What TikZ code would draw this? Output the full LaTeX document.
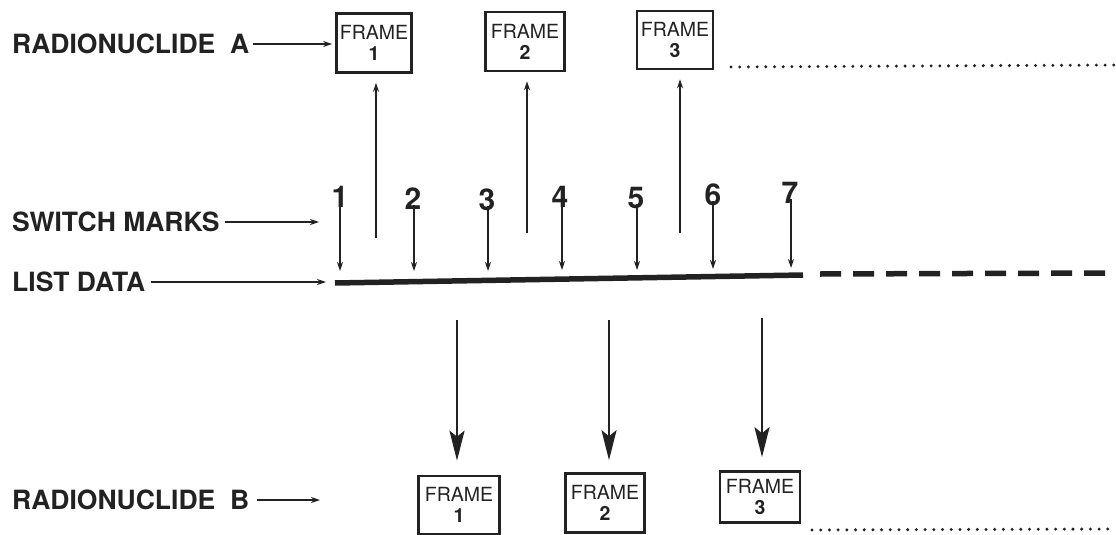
\documentclass[tikz,border=0pt]{standalone}
\usepackage{fontspec}
\setmainfont{TeX Gyre Heros}
\usetikzlibrary{arrows.meta}
\definecolor{ink}{HTML}{222222}
\begin{document}
\begin{tikzpicture}[x=1pt,y=-1pt,
  lab/.style={anchor=west,inner sep=0pt,font=\fontsize{26.5}{26.5}\selectfont\bfseries,text=ink},
  num/.style={inner sep=0pt,font=\fontsize{30}{30}\selectfont\bfseries,text=ink},
  framebox/.style={draw=ink,line width=2.6pt,inner sep=0pt,align=center,
    font=\fontsize{19.5}{21}\selectfont,text=ink},
  thin/.style={draw=ink,line width=1.2pt,-{Stealth[length=9pt,width=6pt]}},
  big/.style={draw=ink,line width=2.6pt,-{Stealth[length=30pt,width=15pt,inset=6pt]}},
  dots/.style={draw=ink,line width=3.3pt,line cap=round,dash pattern=on 0pt off 8.7pt}]
\useasboundingbox (0,0) rectangle (1116,535);
% labels
\node[lab] (la) at (12,44) {RADIONUCLIDE\ \ A};
\node[lab] (ls) at (12,222) {SWITCH MARKS};
\node[lab] (ll) at (12,282) {LIST DATA};
\node[lab] (lb) at (12,500) {RADIONUCLIDE\ \ B};
% top frames
\node[framebox,minimum width=75pt,minimum height=59pt] (fa1) at (374,43) {FRAME\\\textbf{1}};
\node[framebox,minimum width=79pt,minimum height=59pt] (fa2) at (525,41.5) {FRAME\\\textbf{2}};
\node[framebox,minimum width=76pt,minimum height=58pt] (fa3) at (675,40) {FRAME\\\textbf{3}};
% bottom frames
\node[framebox,minimum width=81pt,minimum height=58pt] (fb1) at (459,505) {FRAME\\\textbf{1}};
\node[framebox,minimum width=79pt,minimum height=59pt] (fb2) at (605,503) {FRAME\\\textbf{2}};
\node[framebox,minimum width=80pt,minimum height=51pt] (fb3) at (760,497) {FRAME\\\textbf{3}};
% label arrows
\coordinate (sme) at (319,222);
\coordinate (lde) at (326,282);
\coordinate (rbe) at (320,500);
\draw[thin] ([xshift=4pt]la.east) -- ([xshift=4pt]la.east -| fa1.west) [shorten >=7pt];
\draw[thin] ([xshift=5pt]ls.east) -- (sme);
\draw[thin] ([xshift=6pt]ll.east) -- (lde);
\draw[thin] ([xshift=8pt]lb.east) -- (rbe);
% up arrows to frames A
\coordinate (ua1) at (376,238);
\coordinate (ua2) at (527,233);
\coordinate (ua3) at (680,233);
\draw[thin] (ua1) -- (ua1 |- fa1.south) [shorten >=9pt];
\draw[thin] (ua2) -- (ua2 |- fa2.south) [shorten >=9pt];
\draw[thin] (ua3) -- (ua3 |- fa3.south) [shorten >=9pt];
% switch marks
\foreach \i/\x/\y in {1/340/197,2/413/199,3/487/200,4/560/197,5/636/198,6/713/195,7/790/193}{
  \node[num] (n\i) at (\x,\y) {\i};
}
\foreach \i/\x/\y in {1/340/271,2/414/271,3/488/271,4/562/270,5/637/270,6/713/269,7/791/268}{
  \coordinate (d\i) at (\x,\y);
  \draw[thin] ([yshift=5pt]n\i.south -| d\i) -- (d\i);
}
% list data
\coordinate (ld0) at (335,283);
\coordinate (ld1) at (803,275);
\coordinate (ld2) at (820,274);
\coordinate (ld3) at (1112,273);
\draw[ink,line width=5.5pt] (ld0) -- (ld1);
\draw[ink,line width=5.5pt,dash pattern=on 21pt off 12pt] (ld2) -- (ld3);
% dotted continuations
\coordinate (da0) at (731,67);
\coordinate (da1) at (1114,65);
\draw[dots] (da0) -- (da1);
\coordinate (db0) at (812,530);
\coordinate (db1) at (1110,529);
\draw[dots] (db0) -- (db1);
% big arrows to frames B
\coordinate (ub1) at (457,320);
\coordinate (ub2) at (609,320);
\coordinate (ub3) at (762,318);
\draw[big] (ub1) -- (ub1 |- fb1.north) [shorten >=14pt];
\draw[big] (ub2) -- (ub2 |- fb2.north) [shorten >=12pt];
\draw[big] (ub3) -- (ub3 |- fb3.north) [shorten >=13pt];
\end{tikzpicture}
\end{document}
